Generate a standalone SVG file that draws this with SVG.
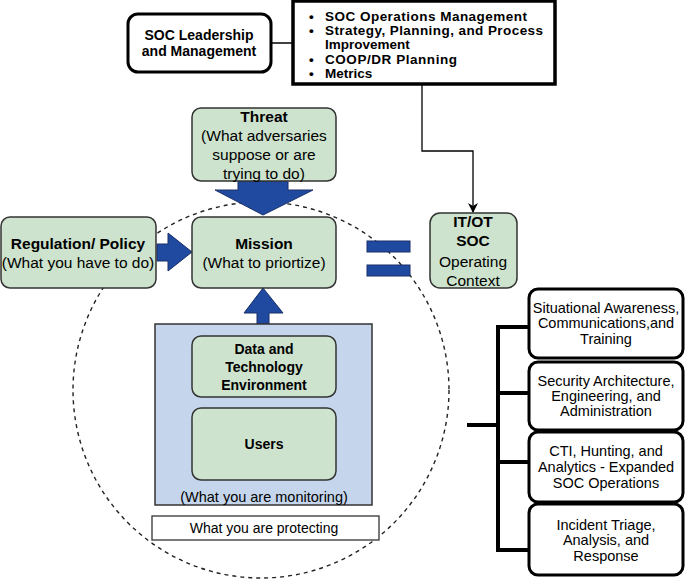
<svg xmlns="http://www.w3.org/2000/svg" width="685" height="581" viewBox="0 0 685 581">
<defs>
<style>
text{font-family:"Liberation Sans",Arial,sans-serif;fill:#000;text-anchor:middle}
.b{font-weight:bold}
.g{fill:#cde3cd;stroke:#333;stroke-width:1.5}
.k{fill:#fff;stroke:#000;stroke-width:3}
.ar{fill:#1f4aa0;stroke:#1a2f66;stroke-width:1}
.t14{font-size:14px}
.t145{font-size:14.5px}
.t15{font-size:15.5px}
.bl{font-size:13.5px;font-weight:bold;text-anchor:start}
</style>
<marker id="ah" markerWidth="10" markerHeight="10" refX="9" refY="5" orient="auto" markerUnits="userSpaceOnUse">
<path d="M0,0 L10,5 L0,10 L3,5 Z" fill="#000"/>
</marker>
</defs>
<rect width="685" height="581" fill="#fff"/>

<g id="circle">
<ellipse cx="261" cy="390" rx="188" ry="188" fill="none" stroke="#222" stroke-width="1.4" stroke-dasharray="4,4"/>
</g>

<g id="connectors">
<line x1="271" y1="43" x2="292" y2="43" stroke="#000" stroke-width="1.5"/>
<polyline points="422,85 422,151 473,151 473,212" fill="none" stroke="#000" stroke-width="1.3" marker-end="url(#ah)"/>
<path class="ar" d="M238,181 H288 V190 H313 L263,215 L215,190 H238 Z"/>
<path class="ar" d="M157,244 H168 V233 L192,252 L168,271 V261 H157 Z"/>
<path class="ar" d="M257,324 V313 H244 L263,288 L283,313 H269 V324 Z"/>
<line x1="263" y1="324" x2="263" y2="336" stroke="#333" stroke-width="1.2"/>
<g fill="none" stroke="#000" stroke-width="4">
<line x1="467" y1="425" x2="498" y2="425"/>
<line x1="498" y1="325" x2="498" y2="552"/>
<line x1="496" y1="327" x2="528" y2="327"/>
<line x1="498" y1="393" x2="528" y2="393"/>
<line x1="498" y1="462" x2="528" y2="462"/>
<line x1="496" y1="550" x2="528" y2="550"/>
</g>
</g>

<g id="equals">
<rect x="367" y="241" width="43" height="11" fill="#1f4aa0" stroke="#1a2f66" stroke-width="1"/>
<rect x="367" y="265" width="43" height="11" fill="#1f4aa0" stroke="#1a2f66" stroke-width="1"/>
</g>

<g id="leadership">
<rect x="128" y="14" width="143" height="58" rx="10" class="k"/>
<text x="199" y="40" class="b t14">SOC Leadership</text>
<text x="199" y="56" class="b t14">and Management</text>
</g>

<g id="bullets">
<rect x="293" y="1" width="262" height="83" fill="#fff" stroke="#000" stroke-width="3.5"/>
<text x="309" y="21" class="bl">•</text>
<text x="325" y="21" class="bl" textLength="202">SOC Operations Management</text>
<text x="309" y="35" class="bl">•</text>
<text x="325" y="35" class="bl" textLength="218">Strategy, Planning, and Process</text>
<text x="325" y="49" class="bl">Improvement</text>
<text x="309" y="64" class="bl">•</text>
<text x="325" y="64" class="bl" textLength="132">COOP/DR Planning</text>
<text x="309" y="78" class="bl">•</text>
<text x="325" y="78" class="bl">Metrics</text>
</g>

<g id="threat">
<rect x="192" y="108" width="144" height="73" rx="9" class="g"/>
<text x="264" y="122" class="b t15">Threat</text>
<text x="264" y="141" class="t15">(What adversaries</text>
<text x="264" y="160" class="t15">suppose or are</text>
<text x="264" y="179" class="t15">trying to do)</text>
</g>

<g id="regulation">
<rect x="1" y="217" width="155" height="71" rx="9" class="g"/>
<text x="78" y="249" class="b t15">Regulation/ Policy</text>
<text x="78" y="268" class="t15">(What you have to do)</text>
</g>

<g id="mission">
<rect x="192" y="217" width="144" height="71" rx="9" class="g"/>
<text x="264" y="249" class="b t15">Mission</text>
<text x="264" y="268" class="t15">(What to priortize)</text>
</g>

<g id="itot">
<rect x="430" y="213" width="87" height="75" rx="10" class="g"/>
<text x="473" y="227" class="b t15">IT/OT</text>
<text x="473" y="246" class="b t15">SOC</text>
<text x="473" y="267" class="t15">Operating</text>
<text x="473" y="286" class="t15">Context</text>
</g>

<g id="monitoring">
<rect x="155" y="324" width="217" height="181" fill="#c5d6ec" stroke="#333" stroke-width="1.5"/>
<text x="264" y="502" class="t145">(What you are monitoring)</text>
</g>

<g id="data">
<rect x="192" y="336" width="144" height="61" rx="9" class="g"/>
<text x="264" y="354" class="b t14">Data and</text>
<text x="264" y="372" class="b t14">Technology</text>
<text x="264" y="390" class="b t14">Environment</text>
</g>

<g id="users">
<rect x="192" y="408" width="144" height="72" rx="9" class="g"/>
<text x="264" y="449" class="b t14">Users</text>
</g>

<g id="protecting">
<rect x="152" y="516" width="227" height="24" fill="#fff" stroke="#333" stroke-width="1.3"/>
<text x="264" y="533" class="t14">What you are protecting</text>
</g>

<g id="sa">
<rect x="529" y="289" width="154" height="69" rx="9" class="k"/>
<text x="606" y="313" class="t145">Situational Awareness,</text>
<text x="606" y="328" class="t145">Communications,and</text>
<text x="606" y="344" class="t145">Training</text>
</g>
<g id="arch">
<rect x="529" y="362" width="154" height="68" rx="9" class="k"/>
<text x="606" y="386" class="t145">Security Architecture,</text>
<text x="606" y="401" class="t145">Engineering, and</text>
<text x="606" y="416" class="t145">Administration</text>
</g>
<g id="cti">
<rect x="529" y="432" width="154" height="70" rx="9" class="k"/>
<text x="606" y="456" class="t145">CTI, Hunting, and</text>
<text x="606" y="472" class="t145">Analytics - Expanded</text>
<text x="606" y="488" class="t145">SOC Operations</text>
</g>
<g id="incident">
<rect x="529" y="504" width="154" height="71" rx="9" class="k"/>
<text x="606" y="530" class="t145">Incident Triage,</text>
<text x="606" y="545" class="t145">Analysis, and</text>
<text x="606" y="561" class="t145">Response</text>
</g>
</svg>
